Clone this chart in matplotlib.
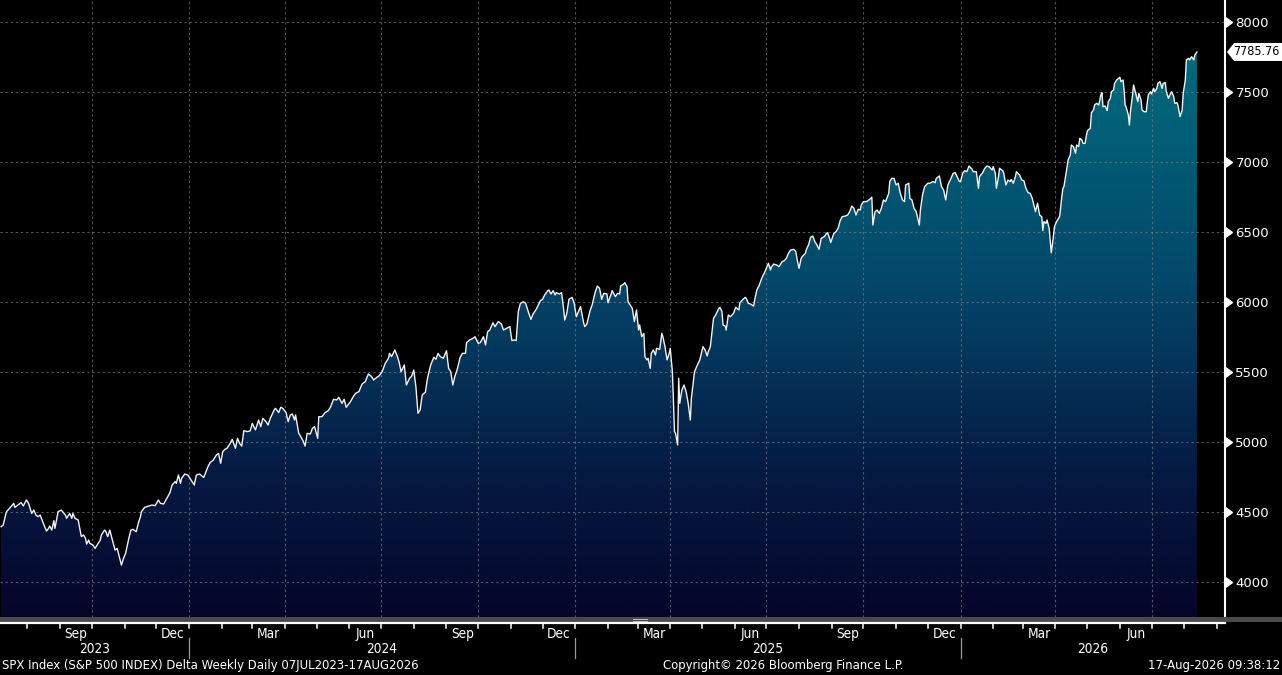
import numpy as np
import pandas as pd
import matplotlib
matplotlib.use("Agg")
import matplotlib.pyplot as plt
import matplotlib.dates as mdates
from matplotlib.colors import LinearSegmentedColormap
from matplotlib.patches import Polygon, Rectangle
from matplotlib.lines import Line2D
from matplotlib.transforms import blended_transform_factory, IdentityTransform

# ---------------- data ----------------
start_date = "2023-07-07"
day_offset = [
    0, 2, 5, 8, 12, 13, 16, 19, 21, 24, 26, 29, 31, 33, 35, 37, 40, 43, 45, 46, 48, 50, 51, 54, 57,
    61, 62, 65, 67, 68, 70, 73, 76, 78, 80, 81, 83, 84, 87, 89, 91, 94, 95, 98, 99, 101, 103, 105,
    108, 110, 112, 114, 116, 118, 121, 123, 125, 128, 130, 132, 133, 136, 140, 143, 146, 149, 151,
    154, 157, 160, 162, 165, 166, 168, 170, 171, 174, 177, 181, 183, 185, 188, 192, 196, 198, 201,
    204, 206, 208, 210, 212, 214, 217,
    219, 222, 224, 226, 228, 230, 233, 236, 238, 241, 244, 246, 248, 251, 253, 255, 259, 260, 263,
    265, 267, 270, 272, 274, 276, 278, 279, 282, 283, 286, 288, 290, 293, 295, 297, 300, 301, 304,
    307, 310, 312, 315, 318, 320, 323, 325, 327, 331, 334, 336, 339, 342, 345, 348, 351, 353, 356,
    358, 361, 364, 367, 368, 370, 373, 375, 377, 379, 382, 384, 387, 389, 391, 393, 395, 397, 399,
    402, 404,
    407, 410, 412, 414, 416, 419, 422, 424, 426, 428, 430, 432, 435, 437, 440, 441, 444, 447, 449,
    452, 454, 457, 459, 461, 463, 466, 468, 471, 474, 476, 479, 482, 484, 486, 488, 490, 492, 495,
    497, 500, 502, 504, 507, 509, 511, 513, 515, 518, 519, 521, 523, 525, 526, 529, 531, 533, 534,
    536, 538, 541, 543, 545, 547, 549, 552, 553, 555, 558, 560, 563, 565, 567, 569, 571, 574, 575,
    578, 579, 582, 584, 586, 587, 590, 591, 593,
    594, 597, 598, 600, 602, 604, 605, 607, 609, 610, 612, 613, 615, 616, 618, 620, 621, 624, 626,
    627, 629, 631, 633, 634, 636, 637, 638, 639, 641, 642, 643, 645, 647, 649, 651, 653, 654, 657,
    659, 662, 665, 667, 669, 670, 672, 675, 677, 680, 681, 683, 684, 686, 687, 689, 691, 694, 696,
    699, 700, 703, 705, 706, 708, 710, 713, 714, 716, 718, 721, 723, 725, 727, 729, 730, 732, 735,
    737, 740, 742, 744, 746, 748, 751, 753, 754, 756, 758, 759, 762, 763, 765, 767, 769, 771, 773,
    775, 777, 780, 782, 783, 785, 786, 789, 791, 793, 795, 797, 800, 802, 804, 806, 808, 810, 812,
    814,
    815, 817, 820, 823, 825, 826, 828, 830, 832, 834, 836, 838, 841, 842, 844, 846, 848, 850, 852,
    854, 856, 857, 860, 861, 863, 865, 867, 870, 871, 873, 875, 878, 880, 883, 885, 886, 889, 891,
    893, 895, 897, 900, 902, 904, 905, 908, 909, 911, 913, 915, 917, 920, 921, 924, 926, 927, 930,
    932, 934, 936, 939, 940, 942, 943, 945, 946, 949, 950, 952, 954, 956, 957, 959, 961, 962, 965,
    967, 969, 971, 973, 975, 977, 980, 982, 984,
    986, 987, 988, 990, 991, 993, 994, 995, 997, 998, 1000, 1002, 1003, 1005, 1006, 1007, 1009,
    1011, 1013, 1014, 1016, 1018, 1019, 1021, 1022, 1024, 1025, 1027, 1029, 1030, 1032, 1033, 1035,
    1036, 1038, 1040, 1042, 1043, 1044, 1046, 1048, 1049, 1051, 1052, 1054, 1055, 1057, 1060, 1061,
    1063, 1064, 1065, 1066, 1068, 1069, 1070, 1072, 1073, 1075, 1077, 1078, 1080, 1081, 1083, 1085,
    1086, 1087, 1089, 1090, 1092, 1093, 1095, 1096, 1098, 1100, 1101, 1103, 1104, 1106, 1108, 1109,
    1111, 1112, 1114, 1115, 1117, 1119, 1120, 1122, 1123, 1125, 1126, 1128, 1130, 1131, 1133,
]
close = [
    4395, 4407, 4502, 4526, 4562, 4533, 4550, 4567, 4543, 4586, 4562, 4490, 4514, 4478, 4467, 4478,
    4419, 4364, 4383, 4400, 4371, 4438, 4383, 4502, 4514,
    4478, 4455, 4490, 4455, 4490, 4455, 4443, 4324, 4336, 4312, 4271, 4300, 4276, 4264, 4240, 4264,
    4300, 4336, 4371, 4364, 4324, 4371, 4312,
    4228, 4240, 4181, 4121, 4169, 4205, 4312, 4371, 4376, 4359, 4419, 4467, 4502, 4533, 4543, 4550,
    4545, 4586, 4562,
    4557, 4597, 4638, 4693, 4717, 4705, 4764, 4705, 4740, 4771, 4764, 4717, 4693, 4764, 4771, 4747,
    4824, 4852, 4871,
    4907, 4919, 4848, 4931, 4947, 4955, 4990,
    5019, 4955, 5026, 4990, 4971, 5081, 5074, 5079, 5133, 5086, 5157, 5109, 5169, 5145, 5121, 5169,
    5233, 5240, 5210,
    5248, 5240, 5210, 5145, 5193, 5200, 5157, 5193, 5062, 5050, 5010, 4971, 5062, 5057, 5098, 5110,
    5026, 5181, 5181,
    5210, 5224, 5248, 5305, 5300, 5319, 5276, 5305, 5248, 5288, 5329, 5348, 5360, 5414, 5431, 5486,
    5467, 5443, 5462,
    5471, 5502, 5562, 5598, 5633, 5610, 5657, 5621, 5574, 5502, 5550, 5407, 5455, 5471, 5514, 5395,
    5205, 5229, 5336,
    5356, 5455,
    5550, 5605, 5591, 5633, 5610, 5598, 5652, 5526, 5502, 5407, 5471, 5514, 5605, 5633, 5633, 5710,
    5729, 5740, 5752,
    5705, 5710, 5752, 5693, 5788, 5800, 5852, 5824, 5860, 5843, 5800, 5812, 5824, 5724, 5729, 5724,
    5931, 5990, 6002,
    5990, 5919, 5876, 5914, 5948, 5979, 6010, 6019, 6050, 6081, 6086, 6057, 6081, 6050, 6067, 6057,
    6067, 5948, 5871,
    5919, 6019, 6033, 5990, 5895, 5931, 5967, 5848, 5824, 5843, 5938, 5979, 6074, 6114, 6098, 6019,
    6062, 6057, 5995,
    6057, 6081, 6038, 6062, 6057, 6114, 6129, 6138, 6110,
    6002, 5967, 5955, 5860, 5943, 5800, 5836, 5752, 5776, 5609, 5586, 5598, 5526, 5633, 5657, 5621,
    5669, 5662, 5776,
    5752, 5681, 5586, 5633, 5669, 5502, 5300, 5074, 5062, 4979, 5455, 5276, 5371, 5407, 5359, 5276,
    5157, 5312, 5502,
    5538, 5586, 5681, 5657, 5614, 5645, 5681, 5883, 5907, 5955, 5962, 5931, 5836, 5828, 5800, 5907,
    5895, 5919, 5962,
    5943, 5995, 6019, 6033, 6026, 5990, 5986, 5971, 6014, 6086, 6114, 6176, 6205, 6240, 6276, 6229,
    6252, 6271, 6264,
    6252, 6288, 6295, 6312, 6348, 6371, 6376, 6360, 6312, 6240, 6312, 6324, 6348, 6376, 6407, 6462,
    6471, 6431, 6407,
    6376, 6455, 6467, 6490, 6495, 6455, 6424, 6490, 6502, 6526, 6581, 6610, 6614, 6621, 6645, 6686,
    6669, 6621, 6662,
    6657,
    6693, 6717, 6717, 6733, 6748, 6550, 6645, 6657, 6633, 6669, 6729, 6717, 6776, 6860, 6883, 6883,
    6836, 6848, 6776,
    6729, 6717, 6836, 6848, 6740, 6729, 6669, 6645, 6550, 6657, 6764, 6824, 6848, 6848, 6860, 6852,
    6883, 6900, 6824,
    6800, 6729, 6836, 6883, 6919, 6924, 6907, 6860, 6860, 6919, 6938, 6931, 6971, 6948, 6931, 6931,
    6812, 6895, 6924,
    6955, 6971, 6967, 6943, 6967, 6919, 6812, 6895, 6955, 6938, 6919, 6836, 6871, 6860, 6876, 6848,
    6895, 6931, 6907,
    6871, 6867, 6812, 6781, 6776, 6740, 6645, 6705, 6621,
    6609, 6510, 6574, 6562, 6586, 6526, 6443, 6352, 6467, 6538, 6574, 6598, 6614, 6752, 6812, 6824,
    6919,
    7014, 7050, 7121, 7110, 7062, 7121, 7110, 7169, 7157, 7133, 7133, 7217, 7229, 7240, 7352, 7371,
    7407, 7419, 7407, 7479, 7495, 7395, 7400, 7367, 7431, 7455, 7502, 7514, 7562, 7586, 7605, 7574,
    7586, 7514, 7407, 7390, 7336, 7264, 7359, 7479, 7550, 7490, 7431, 7490, 7443, 7371, 7359, 7359,
    7431, 7479, 7502, 7486, 7526, 7502, 7526, 7562, 7574, 7526, 7562, 7567, 7502, 7455, 7490, 7502,
    7467, 7419, 7424, 7407, 7324, 7371, 7490, 7586, 7729, 7740, 7729, 7752, 7729, 7764, 7785.76,
]

ytick_values = [4000, 4500, 5000, 5500, 6000, 6500, 7000, 7500, 8000]
grid_dates = ["2023-10-01", "2024-01-01", "2024-04-01", "2024-07-01", "2024-10-01", "2025-01-01",
              "2025-04-01", "2025-07-01", "2025-10-01", "2026-01-01", "2026-04-01", "2026-07-01"]
month_label_starts = ["2023-09-01", "2023-12-01", "2024-03-01", "2024-06-01", "2024-09-01",
                      "2024-12-01", "2025-03-01", "2025-06-01", "2025-09-01", "2025-12-01",
                      "2026-03-01", "2026-06-01"]
month_label_texts = ["Sep", "Dec", "Mar", "Jun", "Sep", "Dec", "Mar", "Jun", "Sep", "Dec", "Mar", "Jun"]
year_labels = ["2023", "2024", "2025", "2026"]
year_starts = ["2024-01-01", "2025-01-01", "2026-01-01"]
footer_left = "SPX Index (S&P 500 INDEX) Delta Weekly Daily 07JUL2023-17AUG2026"
footer_mid = "Copyright\u00a9 2026 Bloomberg Finance L.P."
footer_right = "17-Aug-2026 09:38:12"

# ---------------- figure ----------------
W, H = 1282, 675
DPI = 100
FONT = ["DejaVu Sans"]
plt.rcParams["font.family"] = FONT
COND = "condensed"

fig = plt.figure(figsize=(W / DPI, H / DPI), dpi=DPI, facecolor="black")

ax_right_px = 1225
ax_bottom_px = 617
ax = fig.add_axes([0, 1 - ax_bottom_px / H, ax_right_px / W, ax_bottom_px / H])
ax.set_facecolor("black")

t0 = pd.Timestamp(start_date)
dates = t0 + pd.to_timedelta(day_offset, unit="D")
x = mdates.date2num(dates.to_pydatetime())
y = np.array(close, dtype=float)

x0 = mdates.date2num(t0.to_pydatetime())
xmin, xmax = x0 - 1.04, x0 + 1159.6
ymin, ymax = 3750, 8157
ax.set_xlim(xmin, xmax)
ax.set_ylim(ymin, ymax)

# gradient fill under the line
cmap = LinearSegmentedColormap.from_list(
    "bbg", [(0.0, "#05052a"), (0.25, "#051c45"), (0.55, "#03486a"), (1.0, "#00737f")])
verts = np.column_stack([np.r_[x[0], x, x[-1]], np.r_[ymin, y, ymin]])
clip = Polygon(verts, closed=True, facecolor="none", edgecolor="none", transform=ax.transData)
ax.add_patch(clip)
grad = np.linspace(1, 0, 512).reshape(-1, 1)
im = ax.imshow(grad, extent=[xmin, xmax, ymin, ymax], origin="upper", aspect="auto",
               cmap=cmap, zorder=1, interpolation="bilinear")
im.set_clip_path(clip)

# grid
GRID = dict(color="#7c7c7c", lw=0.8, ls=(0, (2.0, 2.6)), alpha=0.7, zorder=2)
for v in ytick_values:
    ax.axhline(v, **GRID)
for d in grid_dates:
    ax.axvline(mdates.date2num(pd.Timestamp(d).to_pydatetime()), **GRID)

# price line
ax.plot(x, y, color="#f2f2f2", lw=1.0, zorder=3, solid_joinstyle="round")

# axes styling
for s in ["top", "left", "bottom"]:
    ax.spines[s].set_visible(False)
ax.spines["right"].set_color("white")
ax.spines["right"].set_linewidth(1.5)
ax.set_xticks([])
ax.yaxis.tick_right()
ax.set_yticks(ytick_values)
ax.set_yticklabels([str(v) for v in ytick_values])
ax.tick_params(axis="y", length=0, pad=7.5, labelcolor="white", labelsize=9.5)
trans_ay = blended_transform_factory(ax.transAxes, ax.transData)
ax.plot([1.0] * len(ytick_values), ytick_values, transform=trans_ay, ls="none",
        marker=9, ms=6.5, color="white", clip_on=False, zorder=5)

# bottom decorations (figure coordinates)
def fy(py):
    return 1 - py / H

def fx(px):
    return px / W

fig.add_artist(Rectangle((0, fy(621.5)), 1, (4.5) / H, transform=fig.transFigure,
                         facecolor="#4a4a4a", edgecolor="none"))
fig.add_artist(Line2D([0, fx(ax_right_px)], [fy(623), fy(623)], transform=fig.transFigure,
                      color="white", lw=1.6))
fig.add_artist(Line2D([fx(633), fx(647)], [fy(618.8), fy(618.8)], transform=fig.transFigure,
                      color="#bdbdbd", lw=0.7))
fig.add_artist(Line2D([fx(633), fx(647)], [fy(620.6), fy(620.6)], transform=fig.transFigure,
                      color="#bdbdbd", lw=0.7))

tr_xf = blended_transform_factory(ax.transData, fig.transFigure)
month_ticks = pd.date_range("2023-08-01", "2026-09-01", freq="MS")
for m in month_ticks:
    mx = mdates.date2num(m.to_pydatetime())
    ax.add_line(Line2D([mx, mx], [fy(623.5), fy(628)], transform=tr_xf, color="white",
                       lw=1.1, clip_on=False))

for s, txt in zip(month_label_starts, month_label_texts):
    a = pd.Timestamp(s)
    b = a + pd.offsets.MonthBegin(1)
    cx = (mdates.date2num(a.to_pydatetime()) + mdates.date2num(b.to_pydatetime())) / 2
    ax.text(cx, fy(634), txt, transform=tr_xf, ha="center", va="center", color="white",
            fontsize=9.8, fontstretch=COND, clip_on=False)

bounds = [xmin] + [mdates.date2num(pd.Timestamp(s).to_pydatetime()) for s in year_starts] + [xmax]
for i, txt in enumerate(year_labels):
    cx = (bounds[i] + bounds[i + 1]) / 2
    ax.text(cx, fy(649), txt, transform=tr_xf, ha="center", va="center", color="white",
            fontsize=9.8, fontstretch=COND, clip_on=False)
for s in year_starts:
    sx = mdates.date2num(pd.Timestamp(s).to_pydatetime())
    ax.add_line(Line2D([sx, sx], [fy(638), fy(658)], transform=tr_xf, color="#9a9a9a",
                       lw=0.9, clip_on=False))

# footer
fig.text(fx(2), fy(666), footer_left, ha="left", va="center", color="white", fontsize=9.4,
         fontstretch=COND)
fig.text(fx(783), fy(666), footer_mid, ha="center", va="center", color="white", fontsize=9.4,
         fontstretch=COND)
fig.text(fx(1280), fy(666), footer_right, ha="right", va="center", color="white", fontsize=9.4,
         fontstretch=COND)

# last value tag
fig.canvas.draw()
ly = ax.transData.transform((x[-1], y[-1]))[1]
lx0 = ax.transAxes.transform((1.0, 0))[0] + 2
tag = Polygon([(lx0, ly), (lx0 + 7, ly + 9), (W, ly + 9), (W, ly - 9), (lx0 + 7, ly - 9)],
              closed=True, transform=IdentityTransform(), facecolor="white", edgecolor="none",
              zorder=10)
fig.add_artist(tag)
fig.text((W - 2) / W, ly / H, f"{y[-1]:.2f}", ha="right", va="center", color="black",
         fontsize=9.0, fontstretch=COND, zorder=11)

fig.savefig("out.png", dpi=DPI, facecolor="black")
